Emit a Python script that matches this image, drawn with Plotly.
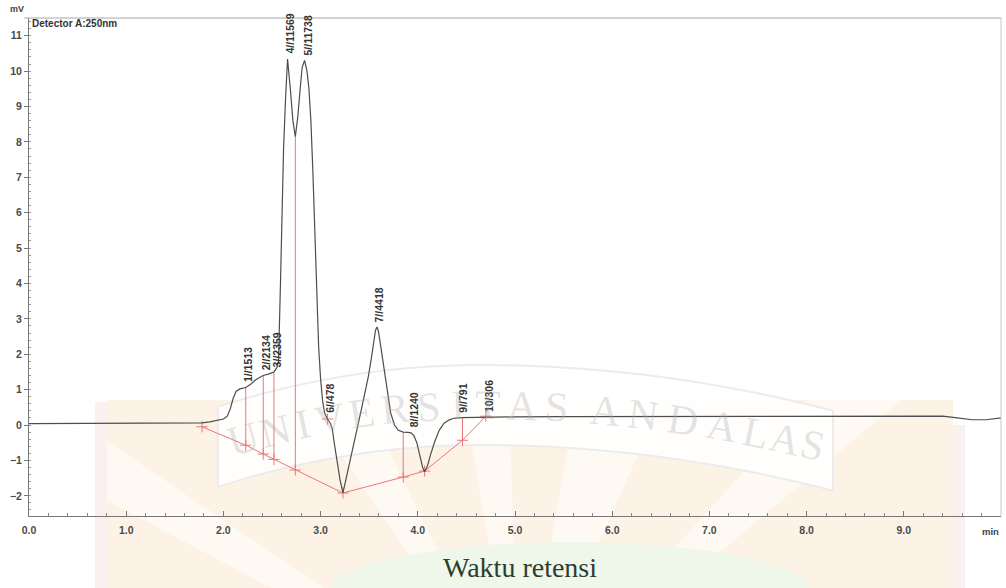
import math
import numpy as np
import plotly.graph_objects as go

# ---------------- data ----------------
time_min = [0.00, 0.50, 1.00, 1.50, 1.78, 1.86, 1.94, 2.00, 2.04, 2.07, 2.10, 2.13, 2.17, 2.23,
            2.28, 2.33, 2.38, 2.41, 2.46, 2.52, 2.55, 2.567, 2.588, 2.608, 2.619, 2.639, 2.66,
            2.69, 2.715, 2.74, 2.765, 2.79, 2.81, 2.835, 2.86, 2.88, 2.90, 2.92, 2.94, 2.96,
            2.98, 3.00, 3.02, 3.04, 3.07, 3.10, 3.12, 3.14, 3.17, 3.20, 3.23, 3.27, 3.30,
            3.34, 3.38, 3.42, 3.46, 3.49, 3.52, 3.545, 3.565, 3.58, 3.595, 3.62, 3.65, 3.68,
            3.72, 3.76, 3.80, 3.85, 3.90, 3.93, 3.96, 3.99, 4.02, 4.05, 4.07, 4.10, 4.13,
            4.17, 4.22, 4.27, 4.32, 4.37, 4.45, 4.60, 4.80, 5.00, 5.50, 6.00, 6.50, 7.00,
            7.50, 8.00, 8.50, 9.00, 9.40, 9.55, 9.70, 9.85, 10.00]
signal_mv = [0.04, 0.04, 0.05, 0.05, 0.06, 0.09, 0.13, 0.17, 0.25, 0.45, 0.75, 0.95, 1.02, 1.06,
             1.15, 1.27, 1.36, 1.40, 1.44, 1.50, 1.62, 1.80, 4.1, 6.4, 7.8, 9.2, 10.34,
             9.45, 8.6, 8.15, 8.7, 9.5, 10.1, 10.3, 10.0, 9.5, 8.6, 7.2, 5.3, 3.5,
             2.2, 1.3, 0.7, 0.35, 0.17, 0.05, -0.1, -0.5, -1.0, -1.55, -1.92, -1.4, -1.05,
             -0.58, -0.05, 0.45, 0.95, 1.35, 1.85, 2.35, 2.68, 2.77, 2.65, 2.2, 1.7, 1.1,
             0.35, 0.0, -0.15, -0.2, -0.21, -0.22, -0.3, -0.5, -0.85, -1.2, -1.32, -1.15, -0.85,
             -0.5, -0.15, 0.05, 0.14, 0.19, 0.21, 0.22, 0.22, 0.23, 0.24, 0.24, 0.25, 0.25,
             0.26, 0.26, 0.25, 0.25, 0.25, 0.20, 0.15, 0.15, 0.20]

peak_labels = ["1//1513", "2//2134", "3//2359", "4//11569", "5//11738",
               "6//478", "7//4418", "8//1240", "9//791", "10/306"]
peak_times = [2.23, 2.41, 2.52, 2.66, 2.84, 3.07, 3.58, 3.93, 4.43, 4.70]
peak_mv = [1.08, 1.40, 1.50, 10.34, 10.3, 0.20, 2.77, -0.22, 0.21, 0.22]

baseline_times = [1.78, 2.23, 2.41, 2.52, 2.74, 3.23, 3.85, 4.07, 4.46, 4.70]
baseline_mv = [-0.05, -0.57, -0.82, -0.97, -1.27, -1.92, -1.47, -1.30, -0.43, 0.25]
drop_times = [2.23, 2.41, 2.52, 2.74, 3.85, 4.46]
shoulder_time = [3.07]

x_ticks = [0, 1, 2, 3, 4, 5, 6, 7, 8, 9]
x_tick_text = ["0.0", "1.0", "2.0", "3.0", "4.0", "5.0", "6.0", "7.0", "8.0", "9.0"]
y_ticks = [-2, -1, 0, 1, 2, 3, 4, 5, 6, 7, 8, 9, 10, 11]

# ---------------- figure ----------------
W, H = 1006, 588
L, R, T, B = 29, 5, 18, 72
PW, PH = W - L - R, H - T - B


def px(x):
    return (x - L) / PW


def py(y):
    return (T + PH - y) / PH


RED = "rgb(236,118,118)"
fig = go.Figure()

# red baseline
fig.add_trace(go.Scatter(x=baseline_times, y=baseline_mv, mode="lines",
                         line=dict(color=RED, width=1), hoverinfo="skip", showlegend=False))
# drop lines
for t in drop_times:
    yb = float(np.interp(t, baseline_times, baseline_mv))
    ys = float(np.interp(t, time_min, signal_mv))
    fig.add_trace(go.Scatter(x=[t, t], y=[yb, ys], mode="lines",
                             line=dict(color=RED, width=1), hoverinfo="skip", showlegend=False))
# baseline markers
fig.add_trace(go.Scatter(x=baseline_times, y=baseline_mv, mode="markers",
                         marker=dict(symbol="cross-thin", size=8, line=dict(color=RED, width=1)),
                         hoverinfo="skip", showlegend=False))
fig.add_trace(go.Scatter(x=shoulder_time, y=[float(np.interp(shoulder_time[0], time_min, signal_mv))],
                         mode="markers",
                         marker=dict(symbol="cross-thin", size=8, line=dict(color=RED, width=1)),
                         hoverinfo="skip", showlegend=False))
# chromatogram
fig.add_trace(go.Scatter(x=time_min, y=signal_mv, mode="lines",
                         line=dict(color="#4d4d4d", width=1.2), showlegend=False))

annotations = []
for lab, t, v in zip(peak_labels, peak_times, peak_mv):
    annotations.append(dict(x=t, y=v, xref="x", yref="y", text=lab, showarrow=False,
                            textangle=-90, xanchor="center", yanchor="bottom", xshift=3, yshift=3,
                            font=dict(family="Arial", size=10.5, color="#333333", weight="bold")))

# axis texts
annotations.append(dict(x=px(17), y=py(9), xref="paper", yref="paper", text="mV", showarrow=False,
                        xanchor="center", yanchor="middle",
                        font=dict(family="Arial", size=9, color="#444", weight="bold")))
annotations.append(dict(x=px(30), y=py(23), xref="paper", yref="paper", text="Detector A:250nm",
                        showarrow=False, xanchor="left", yanchor="middle",
                        font=dict(family="Arial", size=10, color="#333", weight="bold")))
annotations.append(dict(x=px(1001), y=py(531), xref="paper", yref="paper", text="min", showarrow=False,
                        xanchor="right", yanchor="middle",
                        font=dict(family="Arial", size=9.5, color="#444", weight="bold")))
annotations.append(dict(x=px(520), y=py(567), xref="paper", yref="paper", text="Waktu retensi",
                        showarrow=False, xanchor="center", yanchor="middle",
                        font=dict(family="Liberation Serif", size=28, color="#2e3d2f")))

# ---------------- watermark (decoration) ----------------
shapes = []
left_b, right_b, top_b = 107, 953, 400

shapes.append(dict(type="rect", xref="paper", yref="paper", x0=px(107), x1=px(953),
                   y0=py(400), y1=py(600), fillcolor="#fef9f3", line=dict(width=0), layer="below"))

ax_, ay_ = 520, 720


def ray_end(theta):
    th = math.radians(theta)
    c, s = math.cos(th), math.sin(th)
    t = (ay_ - top_b) / s
    x = ax_ + t * c
    if x < left_b:
        t = (left_b - ax_) / c
        return (left_b, ay_ - t * s), "L"
    if x > right_b:
        t = (right_b - ax_) / c
        return (right_b, ay_ - t * s), "R"
    return (x, top_b), "T"


wedges = [(170, 152), (146, 124), (116, 100), (92, 80), (66, 48), (40, 12)]
for a1, a2 in wedges:
    p1, s1 = ray_end(a1)
    p2, s2 = ray_end(a2)
    pts = [(ax_, ay_), p1]
    if s1 == "L" and s2 != "L":
        pts.append((left_b, top_b))
    if s2 == "R" and s1 != "R":
        pts.append((right_b, top_b))
    pts.append(p2)
    path = "M " + " L ".join(f"{px(x):.4f},{py(y):.4f}" for x, y in pts) + " Z"
    shapes.append(dict(type="path", path=path, xref="paper", yref="paper", layer="below",
                       fillcolor="#fdf2e6", line=dict(width=0)))

shapes.append(dict(type="circle", xref="paper", yref="paper", x0=px(330), x1=px(810),
                   y0=py(640), y1=py(542), fillcolor="#eef7e9", line=dict(width=0), layer="below"))
shapes.append(dict(type="rect", xref="paper", yref="paper", x0=px(95), x1=px(107),
                   y0=py(402), y1=py(600), fillcolor="#faf0f0", line=dict(width=0), layer="below"))
shapes.append(dict(type="rect", xref="paper", yref="paper", x0=px(953), x1=px(965),
                   y0=py(425), y1=py(600), fillcolor="#faf0f0", line=dict(width=0), layer="below"))


def arch(x):
    k = 0.000608 if x < 480 else 0.000367
    return 405 + k * (x - 480) ** 2


def arch_slope(x):
    k = 0.000608 if x < 480 else 0.000367
    return 2 * k * (x - 480)


xs = np.linspace(218, 833, 40)
upper = [(x, arch(x) - 40) for x in xs]
lower = [(x, arch(x) + 40) for x in xs[::-1]]
path = "M " + " L ".join(f"{px(x):.4f},{py(y):.4f}" for x, y in upper + lower) + " Z"
shapes.append(dict(type="path", path=path, xref="paper", yref="paper", layer="below",
                   fillcolor="rgba(255,255,255,0.92)", line=dict(color="#ececec", width=2)))

wm_text = "UNIVERSITASANDALAS"
wm_x = [243, 275, 303, 330, 362, 395, 428, 458, 488, 522, 556, 605, 643, 683, 722, 756, 785, 812]
for ch, x in zip(wm_text, wm_x):
    annotations.append(dict(x=px(x), y=py(arch(x)), xref="paper", yref="paper", text=ch,
                            showarrow=False, xanchor="center", yanchor="middle",
                            textangle=math.degrees(math.atan(arch_slope(x))),
                            font=dict(family="Liberation Serif", size=42, color="rgba(170,170,170,0.33)")))

# frame lines (top / right)
shapes.append(dict(type="line", xref="paper", yref="paper", x0=-0.005, x1=1, y0=1, y1=1,
                   line=dict(color="#a8a8a8", width=1)))
shapes.append(dict(type="line", xref="paper", yref="paper", x0=1, x1=1, y0=0, y1=1,
                   line=dict(color="#c8c8c8", width=1)))

tick_font = dict(family="Arial", size=10.5, color="#4a4a4a", weight="bold")
fig.update_layout(
    width=W, height=H,
    margin=dict(l=L, r=R, t=T, b=B, pad=0),
    paper_bgcolor="white", plot_bgcolor="rgba(0,0,0,0)",
    showlegend=False,
    xaxis=dict(range=[0, 10], tickvals=x_ticks, ticktext=x_tick_text, ticks="inside", ticklen=5,
               tickcolor="#777", showline=True, linecolor="#777", linewidth=1, showgrid=False,
               zeroline=False, tickfont=tick_font, ticklabelstandoff=4,
               minor=dict(dtick=0.2, ticks="inside", ticklen=3, tickcolor="#888", showgrid=False)),
    yaxis=dict(range=[-2.57, 11.5], tickvals=y_ticks, ticks="outside", ticklen=4, tickcolor="#777",
               showline=True, linecolor="#777", linewidth=1, showgrid=False, zeroline=False,
               tickfont=tick_font,
               minor=dict(dtick=0.2, ticks="inside", ticklen=2, tickcolor="#999", showgrid=False)),
    annotations=annotations,
    shapes=shapes,
)

fig.write_html("out.html", config={"displayModeBar": False},
               post_script="document.body.style.margin='0px';document.body.style.overflow='hidden';")
